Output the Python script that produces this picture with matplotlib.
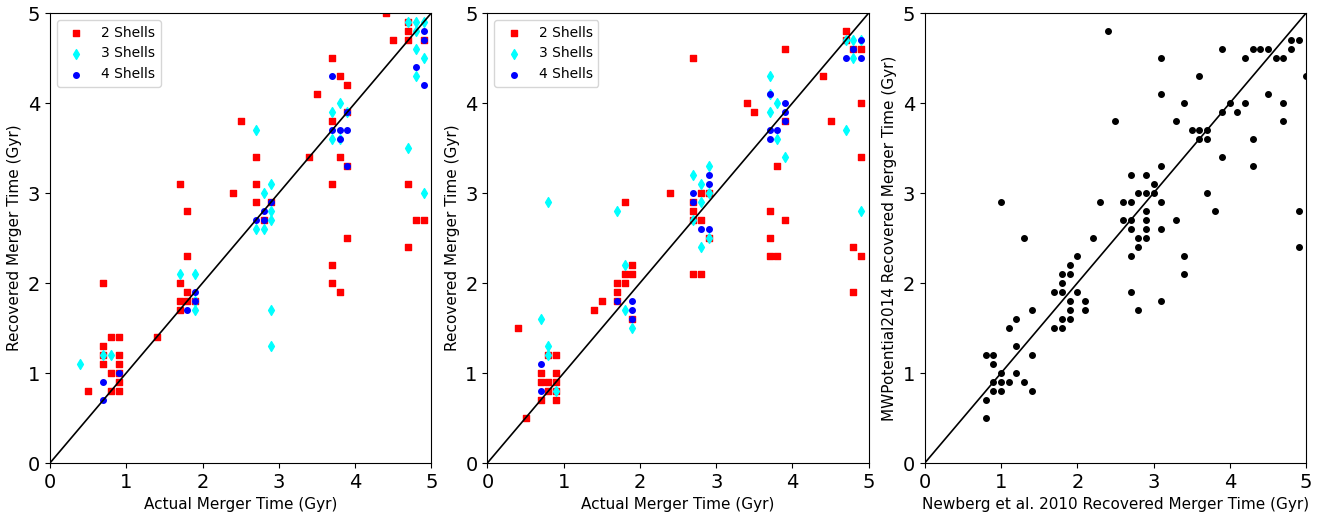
import matplotlib
matplotlib.use("Agg")
import matplotlib.pyplot as plt

# panel 1: actual vs recovered, by number of shells
p1_two_x = [4.4, 4.7, 4.7, 4.5, 4.7, 4.9, 3.7, 3.8, 3.9, 3.5, 3.7, 3.9, 2.5, 2.7, 3.4, 3.8, 3.9,
            1.7, 2.7, 3.7, 4.7, 2.4, 2.7, 2.9, 1.8, 2.8, 4.8, 4.9, 3.9, 4.7,
            3.7, 3.7, 3.8, 1.8, 1.7, 1.8, 1.7, 1.8, 1.9, 1.7, 1.4,
            0.7, 0.8, 0.9, 0.7, 0.7, 0.9, 0.7, 0.9, 0.8, 0.9, 0.9, 0.5, 0.8, 0.9]
p1_two_y = [5.0, 4.9, 4.8, 4.7, 4.7, 4.7, 4.5, 4.3, 4.2, 4.1, 3.8, 3.9, 3.8, 3.4, 3.4, 3.4, 3.3,
            3.1, 3.1, 3.1, 3.1, 3.0, 2.9, 2.9, 2.8, 2.7, 2.7, 2.7, 2.5, 2.4,
            2.2, 2.0, 1.9, 2.3, 2.0, 1.9, 1.8, 1.8, 1.8, 1.7, 1.4,
            2.0, 1.4, 1.4, 1.3, 1.2, 1.2, 1.1, 1.1, 1.0, 1.0, 0.9, 0.8, 0.8, 0.8]
p1_three_x = [4.7, 4.8, 4.9, 4.8, 4.8, 4.9, 4.8, 3.7, 3.8, 3.9, 3.7, 3.8, 2.7, 4.7, 4.9,
              2.9, 2.8, 2.9, 2.9, 2.7, 2.8, 0.4, 0.7, 0.8, 1.7, 1.9, 1.9, 1.9, 2.9, 2.9]
p1_three_y = [4.9, 4.9, 4.9, 4.8, 4.6, 4.5, 4.3, 3.9, 4.0, 3.9, 3.6, 3.6, 3.7, 3.5, 3.0,
              3.1, 3.0, 2.8, 2.7, 2.6, 2.6, 1.1, 1.2, 1.2, 2.1, 2.1, 1.8, 1.7, 1.7, 1.3]
p1_four_x = [4.9, 4.9, 4.8, 4.9, 3.7, 3.9, 3.7, 3.8, 3.9, 3.8, 3.9, 2.7, 2.8, 2.9, 2.8,
             0.7, 0.7, 0.9, 1.8, 1.9, 1.9]
p1_four_y = [4.8, 4.7, 4.4, 4.2, 4.3, 3.9, 3.7, 3.7, 3.7, 3.6, 3.3, 2.7, 2.8, 2.9, 2.7,
             0.9, 0.7, 1.0, 1.7, 1.9, 1.8]

# panel 2
p2_two_x = [4.7, 4.7, 4.8, 4.9, 3.9, 2.7, 4.4, 3.4, 3.5, 4.9, 3.9, 4.5, 4.9, 3.8, 2.4, 1.8,
            2.7, 2.7, 2.7, 2.8, 2.9, 2.8, 2.9, 3.7, 3.9, 3.7, 4.8,
            3.7, 3.8, 4.9, 4.8, 2.7, 2.8, 1.9, 1.8, 1.9, 1.7, 1.8, 1.7, 1.5, 1.7, 1.4, 1.9, 0.4,
            0.8, 0.9, 0.7, 0.9, 0.7, 0.8, 0.9, 0.8, 0.9, 0.7, 0.9, 0.5]
p2_two_y = [4.8, 4.7, 4.6, 4.6, 4.6, 4.5, 4.3, 4.0, 3.9, 4.0, 3.8, 3.8, 3.4, 3.3, 3.0, 2.9,
            2.9, 2.8, 2.7, 3.0, 3.0, 2.7, 2.5, 2.8, 2.7, 2.5, 2.4,
            2.3, 2.3, 2.3, 1.9, 2.1, 2.1, 2.2, 2.1, 2.1, 2.0, 2.0, 1.9, 1.8, 1.8, 1.7, 1.6, 1.5,
            1.2, 1.2, 1.0, 1.0, 0.9, 0.9, 0.9, 0.8, 0.8, 0.7, 0.7, 0.5]
p2_three_x = [4.7, 4.8, 4.9, 4.8, 3.7, 3.7, 3.8, 3.7, 3.8, 3.9, 4.7, 4.9, 0.8, 1.7, 2.7, 2.8,
              2.9, 2.8, 2.9, 2.7, 2.9, 2.8, 1.8, 1.8, 1.9, 0.7, 0.8, 0.8, 0.9]
p2_three_y = [4.7, 4.7, 4.7, 4.5, 4.3, 4.1, 4.0, 3.9, 3.6, 3.4, 3.7, 2.8, 2.9, 2.8, 3.2, 3.1,
              3.3, 2.9, 3.0, 2.7, 2.5, 2.4, 2.2, 1.7, 1.5, 1.6, 1.3, 1.2, 0.8]
p2_four_x = [4.9, 4.8, 4.7, 4.9, 3.7, 3.9, 3.9, 3.9, 3.7, 3.8, 3.7, 2.7, 2.7, 2.9, 2.9, 2.8, 2.9,
             1.7, 1.9, 1.9, 1.9, 0.7, 0.7]
p2_four_y = [4.7, 4.6, 4.5, 4.5, 4.1, 4.0, 3.9, 3.8, 3.7, 3.7, 3.6, 3.0, 2.9, 3.2, 3.1, 2.6, 2.6,
             1.8, 1.8, 1.7, 1.6, 1.1, 0.8]

# panel 3: Newberg et al. 2010 vs MWPotential2014
p3_x = [2.4, 3.1, 3.9, 4.2, 4.3, 4.4, 4.5, 4.6, 4.7, 4.8, 4.8, 4.9, 5.0, 3.6, 3.1, 3.4, 4.0, 4.2,
        4.5, 4.7, 3.9, 4.1, 2.5, 3.3, 4.7, 3.5, 3.6, 3.7, 3.6, 3.7, 4.3, 3.9, 3.1, 4.3,
        2.7, 2.9, 3.0, 2.8, 2.9, 3.0, 3.7, 1.0, 2.3, 2.6, 2.7, 3.1, 2.9, 3.8, 4.9,
        2.6, 2.7, 2.9, 3.3, 2.7, 2.9, 3.1, 1.3, 2.2, 2.8, 2.9, 2.8, 4.9,
        2.7, 3.4, 3.4, 2.0, 1.9, 1.8, 1.9, 1.8, 1.7, 1.8, 2.0, 2.7, 1.9, 2.1, 3.1,
        1.4, 1.9, 2.1, 2.8, 1.2, 1.8, 1.9, 1.1, 1.7, 1.8, 1.2, 0.8, 0.9, 1.4, 0.9,
        1.0, 1.2, 0.9, 1.0, 1.1, 1.3, 0.9, 1.0, 1.4, 0.8, 0.8]
p3_y = [4.8, 4.5, 4.6, 4.5, 4.6, 4.6, 4.6, 4.5, 4.5, 4.6, 4.7, 4.7, 4.3, 4.3, 4.1, 4.0, 4.0, 4.0,
        4.1, 4.0, 3.9, 3.9, 3.8, 3.8, 3.8, 3.7, 3.7, 3.7, 3.6, 3.6, 3.6, 3.4, 3.3, 3.3,
        3.2, 3.2, 3.1, 3.0, 3.0, 3.0, 3.0, 2.9, 2.9, 2.9, 2.9, 2.9, 2.8, 2.8, 2.8,
        2.7, 2.7, 2.7, 2.7, 2.6, 2.6, 2.6, 2.5, 2.5, 2.5, 2.5, 2.4, 2.4,
        2.3, 2.3, 2.1, 2.3, 2.2, 2.1, 2.1, 2.0, 1.9, 1.9, 1.9, 1.9, 1.8, 1.8, 1.8,
        1.7, 1.7, 1.7, 1.7, 1.6, 1.6, 1.6, 1.5, 1.5, 1.5, 1.3, 1.2, 1.2, 1.2, 1.1,
        1.0, 1.0, 0.9, 0.9, 0.9, 0.9, 0.8, 0.8, 0.8, 0.7, 0.5]

shell_labels = ["2 Shells", "3 Shells", "4 Shells"]

fig, axes = plt.subplots(1, 3, figsize=(13.22, 5.12), dpi=100)
fig.subplots_adjust(left=0.0378, right=0.988, top=0.9746, bottom=0.0957, wspace=0.147)

panels = [
    (p1_two_x, p1_two_y, p1_three_x, p1_three_y, p1_four_x, p1_four_y),
    (p2_two_x, p2_two_y, p2_three_x, p2_three_y, p2_four_x, p2_four_y),
]
for ax, (tx, ty, hx, hy, fx, fy) in zip(axes[:2], panels):
    ax.scatter(tx, ty, marker='s', c='red', s=25, label=shell_labels[0])
    ax.scatter(hx, hy, marker='d', c='cyan', s=25, label=shell_labels[1])
    ax.scatter(fx, fy, marker='o', c='blue', s=16, label=shell_labels[2])
    ax.plot([0, 5], [0, 5], color='black', lw=1.2)
    ax.set_xlabel("Actual Merger Time (Gyr)", fontsize=11)
    ax.set_ylabel("Recovered Merger Time (Gyr)", fontsize=11)
    ax.legend(loc='upper left', fontsize=10)

ax = axes[2]
ax.scatter(p3_x, p3_y, marker='o', c='black', s=16)
ax.plot([0, 5], [0, 5], color='black', lw=1.2)
ax.set_xlabel("Newberg et al. 2010 Recovered Merger Time (Gyr)", fontsize=11)
ax.set_ylabel("MWPotential2014 Recovered Merger Time (Gyr)", fontsize=11)

for ax in axes:
    ax.set_xlim(0, 5)
    ax.set_ylim(0, 5)
    ax.set_xticks(range(6))
    ax.set_yticks(range(6))
    ax.tick_params(labelsize=14)

fig.savefig("out.png", dpi=100)
